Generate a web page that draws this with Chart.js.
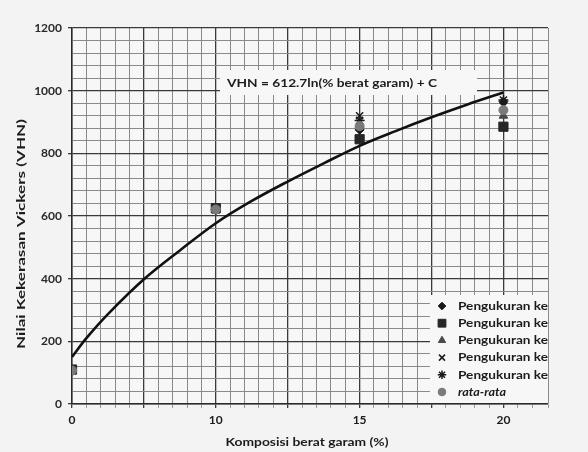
<!DOCTYPE html>
<html>
<head>
<meta charset="utf-8">
<script src="https://cdn.jsdelivr.net/npm/chart.js@4.4.0/dist/chart.umd.min.js"></script>
<style>
  html, body { margin: 0; padding: 0; background: #f3f3f3; }
  #wrap { width: 588px; height: 452px; }
</style>
</head>
<body>
<div id="wrap"><canvas id="myChart" width="588" height="452"></canvas></div>
<script>
// categories on the x axis (drawn evenly spaced, like Excel's category axis)
const categories = ['0', '10', '15', '20'];

const pengukuran1 = [108, 620, 875, 965];   // diamond
const pengukuran2 = [110, 625, 845, 885];   // square
const pengukuran3 = [105, 618, 890, 920];   // triangle
const pengukuran4 = [106, 622, 920, 950];   // x
const pengukuran5 = [107, 620, 905, 970];   // asterisk
const rataRata = [107, 621, 887, 938];      // average

// trend curve (x = category position, 1 = first category)
const trendPos = [1, 1.1, 1.25, 1.5, 1.75, 2, 2.25, 2.5, 2.75, 3, 3.25, 3.5, 3.75, 4];
const trendVHN = [150, 210, 287, 398, 490, 577, 648, 710, 768, 824, 871, 915, 956, 994];

const yTickLabels = [0, 200, 400, 600, 800, 1000, 1200];
const legendLabels = ['Pengukuran ke', 'Pengukuran ke', 'Pengukuran ke', 'Pengukuran ke', 'Pengukuran ke', 'rata-rata'];
const equationText = 'VHN = 612.7ln(% berat garam) + C';
const xTitle = 'Komposisi berat garam (%)';
const yTitle = 'Nilai Kekerasan Vickers (VHN)';

const FONT = 'Lato, "Open Sans", sans-serif';
const DARK = '#1c1c1c';

function toPoints(values) {
    return values.map((v, i) => ({ x: i + 1, y: v }));
}

const markerStyles = [
    { pointStyle: 'rectRot', radius: 4.5, color: '#1a1a1a', borderWidth: 1 },
    { pointStyle: 'rect', radius: 6.5, color: '#262626', borderWidth: 1 },
    { pointStyle: 'triangle', radius: 5, color: '#4a4a4a', borderWidth: 1 },
    { pointStyle: 'crossRot', radius: 5, color: '#1a1a1a', borderWidth: 1.5 },
    { pointStyle: 'star', radius: 5, color: '#1a1a1a', borderWidth: 1.5 },
    { pointStyle: 'circle', radius: 4.5, color: '#7a7a7a', borderWidth: 1 }
];
const seriesValues = [pengukuran1, pengukuran2, pengukuran3, pengukuran4, pengukuran5, rataRata];

// draw text, optionally squeezed/stretched to a target width
function fitText(ctx, text, x, y, font, width, align) {
    ctx.save();
    ctx.font = font;
    ctx.textBaseline = 'middle';
    ctx.textAlign = 'left';
    const w = ctx.measureText(text).width;
    const sx = width ? width / w : 1;
    const left = align === 'center' ? x - (w * sx) / 2 : x;
    ctx.translate(left, y);
    ctx.scale(sx, 1);
    ctx.fillText(text, 0, 0);
    ctx.restore();
}

const paperPlugin = {
    id: 'paper',
    beforeDraw(chart) {
        const { ctx, chartArea: a } = chart;
        ctx.save();
        ctx.fillStyle = '#f7f7f7';
        ctx.fillRect(a.left, a.top, a.right - a.left, a.bottom - a.top);
        ctx.restore();
    }
};

const overlayPlugin = {
    id: 'overlay',
    beforeDatasetsDraw(chart) {
        const { ctx } = chart;
        ctx.save();
        // boxes that hide the grid behind the label and the legend
        ctx.fillStyle = '#f7f7f7';
        ctx.fillRect(220, 70, 257, 25);
        ctx.fillRect(430, 295, 118, 108);
        ctx.restore();
    },
    afterDatasetsDraw(chart) {
        const { ctx } = chart;
        ctx.fillStyle = DARK;
        fitText(ctx, equationText, 227, 83, 'bold 12px ' + FONT, 210);

        // legend
        legendLabels.forEach((label, i) => {
            const y = 306 + i * 17.2;
            const m = markerStyles[i];
            ctx.save();
            ctx.fillStyle = m.color;
            ctx.strokeStyle = m.color;
            ctx.lineWidth = m.borderWidth;
            Chart.helpers.drawPoint(ctx, { pointStyle: m.pointStyle, radius: m.radius * 0.85, rotation: 0, borderWidth: m.borderWidth }, 442, y);
            ctx.restore();
            ctx.fillStyle = DARK;
            if (i === legendLabels.length - 1) {
                fitText(ctx, label, 458, y, 'italic bold 11px ' + FONT, 48);
            } else {
                fitText(ctx, label, 458, y, 'bold 12px ' + FONT, 90);
            }
        });

        // axis titles
        ctx.fillStyle = DARK;
        fitText(ctx, xTitle, 307, 442, 'bold 12px ' + FONT, 163, 'center');
        ctx.save();
        ctx.translate(21, 234);
        ctx.rotate(-Math.PI / 2);
        fitText(ctx, yTitle, 0, 0, 'bold 12px ' + FONT, 230, 'center');
        ctx.restore();
    }
};

function isMajorX(v) {
    return Math.abs(v * 2 - Math.round(v * 2)) < 1e-6;
}

const datasets = seriesValues.map((vals, i) => ({
    label: legendLabels[i],
    data: toPoints(vals),
    pointStyle: markerStyles[i].pointStyle,
    pointRadius: markerStyles[i].radius,
    pointBackgroundColor: markerStyles[i].color,
    pointBorderColor: markerStyles[i].color,
    pointBorderWidth: markerStyles[i].borderWidth,
    showLine: false,
    order: i === 1 ? 6 : 6 - i
}));

datasets.push({
    type: 'line',
    label: 'trend',
    data: trendPos.map((x, i) => ({ x: x, y: trendVHN[i] })),
    borderColor: '#111111',
    borderWidth: 2.6,
    pointRadius: 0,
    tension: 0.35,
    fill: false,
    order: 0
});

new Chart(document.getElementById('myChart'), {
    type: 'scatter',
    data: { datasets: datasets },
    options: {
        responsive: false,
        animation: false,
        layout: { padding: { top: 28, right: 40, left: 0, bottom: 0 } },
        plugins: {
            legend: { display: false },
            tooltip: { enabled: false }
        },
        scales: {
            x: {
                type: 'linear',
                min: 1,
                max: 4.31,
                afterFit: s => { s.height = 48; },
                ticks: {
                    stepSize: 0.1,
                    autoSkip: false,
                    maxRotation: 0,
                    padding: 5,
                    color: DARK,
                    font: { family: FONT, size: 12, weight: 'bold' },
                    callback: v => {
                        const r = Math.round(v);
                        if (Math.abs(v - r) < 1e-6 && r >= 1 && r <= categories.length) return categories[r - 1];
                        return '';
                    }
                },
                grid: {
                    color: c => isMajorX(c.tick.value) ? '#3a3a3a' : '#8a8a8a',
                    lineWidth: c => isMajorX(c.tick.value) ? 1.3 : 1,
                    tickColor: c => isMajorX(c.tick.value) ? '#3a3a3a' : '#9a9a9a',
                    tickLength: 4
                },
                border: { color: '#2a2a2a', width: 1.5 }
            },
            y: {
                min: 0,
                max: 1200,
                afterFit: s => { s.width = 72; },
                ticks: {
                    stepSize: 40,
                    autoSkip: false,
                    padding: 6,
                    color: '#2a2a2a',
                    font: { family: FONT, size: 12, weight: 'bold' },
                    callback: v => yTickLabels.includes(v) ? String(v) : ''
                },
                grid: {
                    color: c => c.tick.value % 200 === 0 ? '#3a3a3a' : '#8a8a8a',
                    lineWidth: c => c.tick.value % 200 === 0 ? 1.3 : 1,
                    tickColor: c => c.tick.value % 200 === 0 ? '#3a3a3a' : 'rgba(0,0,0,0)',
                    tickLength: 4
                },
                border: { color: '#2a2a2a', width: 1.5 }
            }
        }
    },
    plugins: [paperPlugin, overlayPlugin]
});
</script>
</body>
</html>
